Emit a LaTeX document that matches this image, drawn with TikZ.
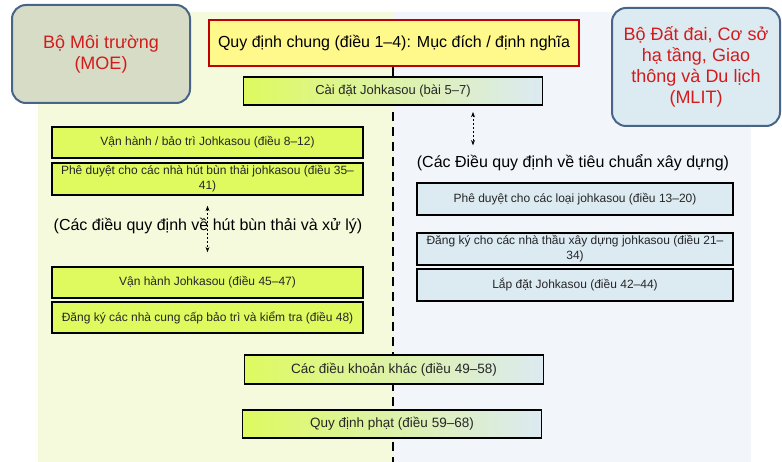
\documentclass[tikz,border=0pt]{standalone}
\usepackage{fontspec}
\setmainfont{Liberation Sans}
\usetikzlibrary{arrows.meta}

\definecolor{leafbg}{RGB}{245,250,220}
\definecolor{skybg}{RGB}{242,246,251}
\definecolor{leaf}{RGB}{222,250,95}
\definecolor{sky}{RGB}{220,234,242}
\definecolor{ministry}{RGB}{210,28,28}
\definecolor{frame}{RGB}{72,100,135}

\begin{document}
\begin{tikzpicture}
[x=1pt,y=-1pt
,art/.style={draw=black,line width=1.6pt,inner sep=1pt,align=center,text=black!85,font=\fontsize{12}{15}\selectfont}
,moeart/.style={art,fill=leaf,minimum width=311pt}
,mlitart/.style={art,fill=sky,minimum width=316pt}
,shared/.style={art,left color=leaf,right color=sky,minimum width=299pt,font=\fontsize{13.5}{16}\selectfont}
,agency/.style={draw=frame,line width=2pt,rounded corners=14pt,align=center,text=ministry,font=\fontsize{18}{21}\selectfont}
,group/.style={font=\fontsize{16}{18}\selectfont}
,link/.style={dashed,dash pattern=on 2pt off 2pt,line width=0.8pt,arrows={Stealth[scale=0.8]-Stealth[scale=0.8]}}
]
\useasboundingbox (0,0) rectangle (782,462);
% two halves of the act
\fill[leafbg] (38,12) rectangle (393,462);
\fill[skybg] (393,12) rectangle (751,462);

\node[agency,fill={rgb,255:red,214;green,220;blue,198},minimum width=178pt,minimum height=98pt] (moe) at (101,54) {Bộ Môi trường\\(MOE)};
\node[agency,fill=sky,minimum width=168pt,minimum height=118pt] (mlit) at (696,67) {Bộ Đất đai, Cơ sở\\hạ tầng, Giao\\thông và Du lịch\\(MLIT)};

\node[draw=red!75!black,line width=2.5pt,fill=yellow!45,minimum width=370pt,minimum height=46pt,font=\fontsize{16}{18}\selectfont] (general) at (394,43) {Quy định chung (điều 1–4): Mục đích / định nghĩa};
\coordinate (bottom) at (393,462);
\draw[line width=2.4pt,dash pattern=on 9pt off 6pt] (general.south -| bottom) -- (bottom);

\node[shared,minimum height=28pt,font=\fontsize{13}{15}\selectfont] (install) at (393,91) {Cài đặt Johkasou (bài 5–7)};

% MOE side
\node[moeart,minimum height=31pt] (lop1) at (207.5,142.5) {Vận hành / bảo trì Johkasou (điều 8–12)};
\node[moeart,minimum height=32pt] (lop2) at (207.5,179) {Phê duyệt cho các nhà hút bùn thải johkasou (điều 35–\\41)};
\node[group] (lgroup) at (208,226) {(Các điều quy định về hút bùn thải và xử lý)};
\node[moeart,minimum height=31pt] (lop3) at (207.5,282.5) {Vận hành Johkasou (điều 45–47)};
\node[moeart,minimum height=31pt] (lop4) at (207.5,317.5) {Đăng ký các nhà cung cấp bảo trì và kiểm tra (điều 48)};
\draw[link,shorten <=10pt,shorten >=14pt] (lop2.south) -- (lop3.north);

% MLIT side
\node[group] (rgroup) at (573,163) {(Các Điều quy định về tiêu chuẩn xây dựng)};
\node[mlitart,minimum height=32pt] (rop1) at (575,199) {Phê duyệt cho các loại johkasou (điều 13–20)};
\node[mlitart,minimum height=32pt] (rop2) at (575,249) {Đăng ký cho các nhà thầu xây dựng johkasou (điều 21–\\34)};
\node[mlitart,minimum height=32pt] (rop3) at (575,285) {Lắp đặt Johkasou (điều 42–44)};
\coordinate (rtop) at (473,105);
\draw[link,shorten <=7pt,shorten >=6pt] (rtop) -- (rtop |- rgroup.north);

% common to both
\node[shared,minimum height=29pt] (misc) at (394,369.5) {Các điều khoản khác (điều 49–58)};
\node[shared,minimum height=28pt] (penalty) at (392,424) {Quy định phạt (điều 59–68)};
\end{tikzpicture}
\end{document}
